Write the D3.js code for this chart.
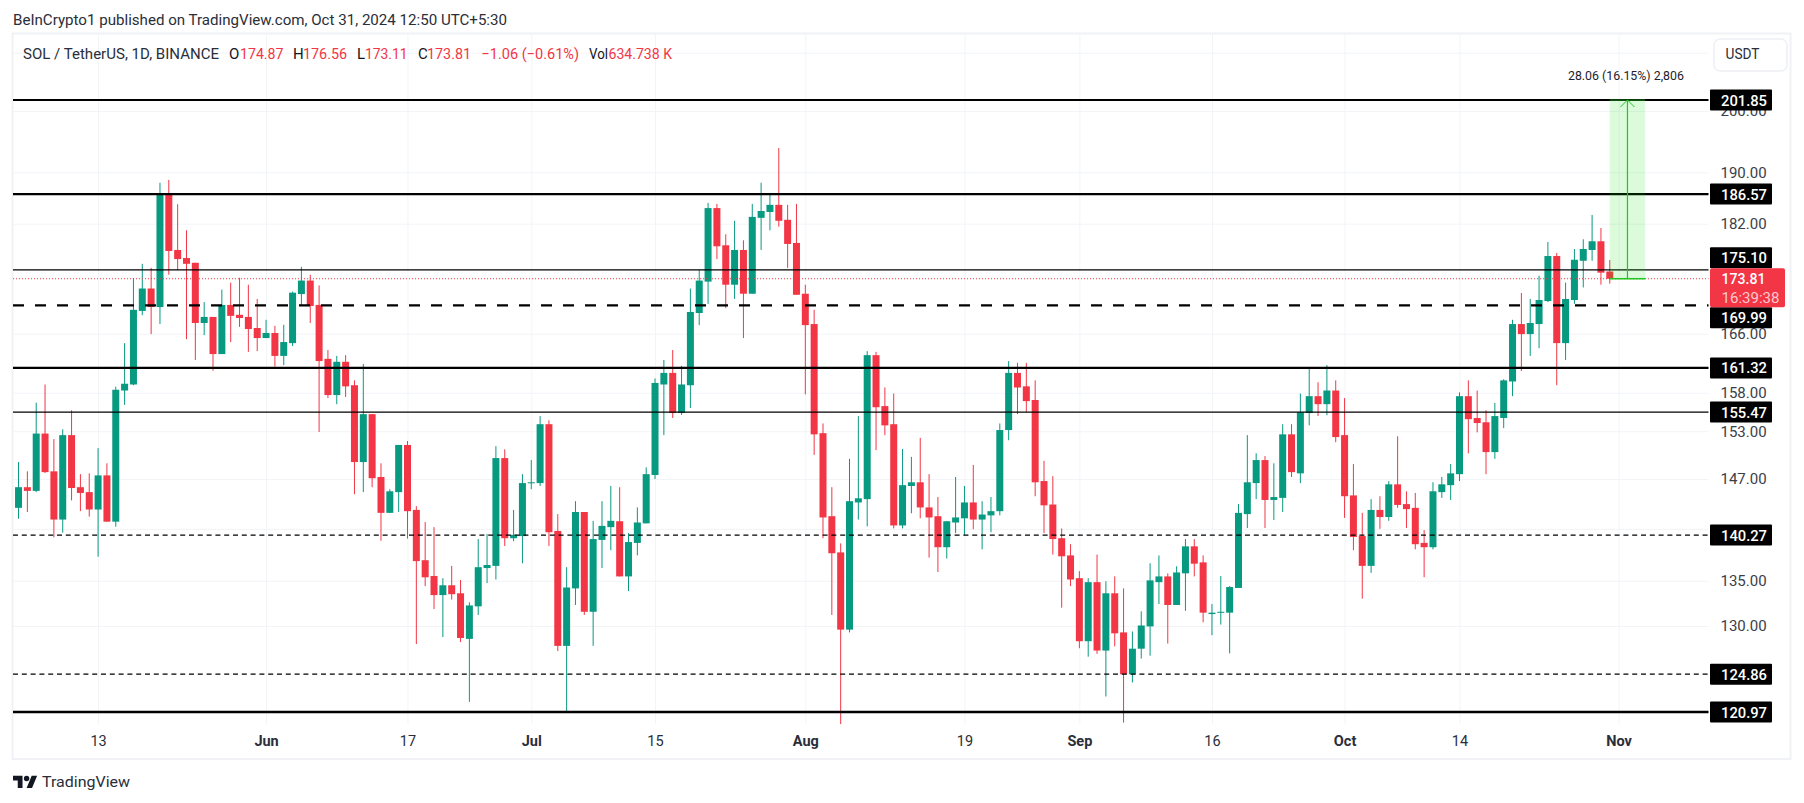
<!DOCTYPE html>
<html><head><meta charset="utf-8">
<script src="https://d3js.org/d3.v7.min.js"></script>
<style>
html,body{margin:0;padding:0;background:#fff;overflow:hidden}
svg{display:block}
text{font-family:Roboto,"Liberation Sans",sans-serif}
.domain{display:none}
</style></head><body>
<svg id="c" width="1804" height="803"></svg>
<script>
const firstDay = Date.UTC(2024,4,4);
const openP = [143.5,146.0,145.55,152.7,147.95,142.1,152.5,146.0,145.4,143.3,
147.45,141.85,158.3,159.1,169.2,172.4,169.75,186.65,178.05,176.85,
176.15,167.5,168.35,163.2,170.05,168.65,168.35,166.8,165.4,166.1,
162.95,164.7,171.6,173.55,170.05,162.55,157.7,162.15,159.0,149.1,
155.2,147.25,142.9,145.4,151.25,143.25,137.35,135.55,133.4,134.5,
133.6,128.6,132.15,136.45,136.7,149.6,139.9,140.15,146.5,146.5,
153.9,140.75,127.85,134.15,143.0,131.55,139.7,141.2,141.9,135.5,
139.35,141.65,147.5,159.1,160.65,155.35,159.0,168.9,173.4,184.4,
178.75,172.95,178.05,171.65,182.9,183.8,184.9,182.6,179.1,171.65,
167.35,152.75,142.5,138.25,129.6,144.15,144.55,163.05,156.25,153.9,
141.4,146.15,146.6,143.55,142.5,138.85,141.75,142.25,144.15,142.1,
142.6,143.1,153.15,160.65,158.85,157.05,146.75,143.9,139.9,137.9,
135.3,128.35,134.85,127.35,133.6,129.3,124.85,127.55,129.95,134.85,
135.5,132.3,135.85,138.95,137.1,131.3,131.45,131.45,134.2,142.75,
146.5,149.35,144.45,144.7,152.6,147.7,155.35,157.55,156.5,158.3,
152.5,145.0,140.15,136.7,143.25,142.4,146.35,143.95,143.5,139.35,
138.85,145.4,146.25,147.6,157.55,154.7,154.15,150.35,154.7,159.5,
167.35,165.95,167.35,170.6,177.15,164.7,170.75,176.45,178.05,179.35,174.87];
const highP = [149.1,147.95,156.7,159.1,152.0,153.25,155.7,147.6,147.7,150.85,
148.95,158.8,164.7,173.9,176.0,175.4,188.35,188.8,185.0,181.0,
176.15,170.45,168.35,172.25,173.25,173.95,172.95,170.9,167.95,167.1,
167.25,171.95,175.55,174.4,172.85,163.75,162.95,163.05,159.65,161.85,
155.2,148.95,145.75,151.25,151.75,143.7,141.8,141.2,135.3,136.7,
135.1,132.6,139.8,140.4,151.1,150.7,143.25,147.6,149.35,154.95,
154.4,142.75,136.55,144.3,143.0,141.95,144.3,146.15,146.0,140.5,
143.55,148.45,159.9,162.4,163.75,161.6,172.4,175.1,185.2,185.05,
180.4,182.45,179.5,185.05,188.35,186.75,193.9,184.9,185.05,172.95,
169.35,154.0,146.0,139.3,149.5,154.95,163.6,163.5,158.7,157.9,
150.75,149.75,152.15,147.6,144.8,141.9,147.25,146.15,148.75,144.3,
144.8,154.0,162.25,162.0,162.0,159.65,149.25,147.35,141.05,139.2,
136.1,135.3,138.0,134.95,135.5,134.15,129.4,131.6,137.0,137.9,
135.85,136.65,139.8,139.8,137.9,132.4,135.55,134.4,143.95,152.5,
150.2,149.85,148.95,153.9,153.9,157.9,161.2,159.4,161.7,159.65,
157.3,148.85,142.9,144.55,144.9,146.75,152.35,145.5,145.3,140.85,
146.6,147.25,148.85,158.05,159.65,158.3,155.7,156.65,159.8,167.95,
171.75,170.9,174.25,179.25,177.6,173.25,178.2,179.65,183.35,181.35,176.56];
const lowP = [142.2,143.0,145.4,147.75,140.0,140.55,144.4,143.1,142.45,137.75,
141.85,141.25,156.4,159.0,168.6,165.95,167.35,174.4,175.1,165.25,
162.4,165.8,160.95,163.2,164.85,166.95,163.5,163.6,165.4,161.5,
161.7,164.3,169.9,167.5,152.9,157.3,156.5,157.45,145.15,145.4,
146.0,139.6,142.9,143.0,139.85,128.05,134.4,131.85,128.8,132.9,
128.25,122.0,131.2,134.75,135.15,139.0,139.55,137.0,145.75,146.15,
139.0,127.3,121.0,132.3,131.2,127.85,136.45,138.5,135.5,133.85,
137.9,141.65,147.0,152.5,154.7,155.1,156.0,167.2,170.2,176.7,
169.6,170.9,165.4,171.65,178.05,181.0,181.55,175.4,171.5,157.8,
150.0,139.9,131.2,119.75,129.3,142.1,141.3,150.6,152.5,141.05,
141.05,142.85,142.25,137.65,136.0,137.55,140.5,140.25,140.95,138.6,
140.6,142.6,151.85,155.2,155.5,144.9,140.5,138.0,132.0,134.4,
127.6,126.7,127.0,122.55,127.8,119.9,124.0,126.5,126.8,132.4,
128.1,132.3,131.65,135.5,130.4,129.0,130.15,127.05,134.2,141.1,
144.55,141.1,142.05,143.0,147.25,146.5,153.75,154.95,155.05,151.6,
142.3,138.5,133.0,135.9,141.0,141.95,143.5,141.1,138.6,135.4,
138.6,144.7,144.45,146.75,150.2,152.85,147.6,149.5,153.4,157.55,
160.9,162.95,164.0,170.45,159.0,162.4,170.2,172.55,176.45,172.95,173.11];
const closeP = [146.0,145.55,152.7,147.85,142.1,152.5,145.9,145.3,143.3,147.45,
141.85,158.4,159.2,169.35,172.4,169.75,186.65,177.9,176.7,176.0,
167.5,168.35,163.2,170.05,168.5,168.2,166.65,165.4,166.1,162.95,
164.85,171.8,173.55,169.9,162.25,157.7,162.15,158.85,149.1,155.2,
147.1,142.9,145.5,151.25,143.1,137.25,135.4,133.4,134.5,133.5,
128.7,132.25,136.55,136.8,149.6,139.9,140.3,146.5,146.6,153.9,
140.6,127.85,134.25,143.0,131.55,139.8,141.35,141.95,135.5,139.45,
141.75,147.6,159.3,160.65,155.35,159.1,169.05,173.55,184.4,178.6,
172.95,178.05,171.65,183.05,183.95,184.9,182.45,178.95,171.5,167.2,
152.6,142.35,138.15,129.6,144.3,144.65,163.05,156.1,153.75,141.4,
146.25,146.6,143.55,142.35,138.85,141.9,142.35,144.15,142.1,142.7,
143.1,153.15,160.65,158.7,156.9,146.6,143.8,139.8,137.8,135.15,
128.35,134.85,127.35,133.6,129.2,124.85,127.55,130.05,135.05,135.5,
132.3,135.95,138.95,136.95,131.45,131.45,131.55,134.3,142.9,146.6,
149.35,144.45,144.8,152.6,147.85,155.45,157.55,156.5,158.3,152.25,
144.9,140.05,136.7,143.25,142.4,146.35,143.85,143.35,139.2,138.85,
145.5,146.35,147.7,157.55,154.55,154.05,150.35,154.95,159.65,167.35,
165.95,167.5,170.75,177.15,164.7,170.9,176.6,178.2,179.35,174.7,173.81];

const priceTicks = [210,200,190,182,174,166,158,153,147,141,135,130];
const hiddenPriceLabels = [210,174,141];
const timeTicks = [[4,13],[5,1],[5,17],[6,1],[6,15],[7,1],[7,19],[8,1],[8,16],[9,1],[9,14],[10,1]].map(d=>new Date(Date.UTC(2024,d[0],d[1])));
const timeLabels = ["13","Jun","17","Jul","15","Aug","19","Sep","16","Oct","14","Nov"];
const levelValues = [201.85,186.57,175.10,169.99,161.32,155.47,140.27,124.86,120.97];
const levelWidths = [2.2,2.2,1.2,2.2,2.2,1.2,1.2,1.2,2.6];
const levelDashes = [null,null,null,"11 11",null,null,"5 3.8","5 3.8",null];
const lastPrice = 173.81;
const countdown = "16:39:38";
const measure = {from:new Date(Date.UTC(2024,9,31)),to:new Date(Date.UTC(2024,10,4)),mid:new Date(Date.UTC(2024,10,2)),lo:173.81,hi:201.85,label:"28.06 (16.15%) 2,806"};

const GREEN="#089981",RED="#f23645",INK="#131722",GRID="#f2f4f8";
const L=13,R=1708.5,T=34,B=724;
const svg=d3.select("#c");
const x=d3.scaleUtc().domain([new Date(Date.UTC(2024,4,3,9)),new Date(Date.UTC(2024,10,11,4))]).range([L,R]);
const y=d3.scaleLog().domain([201.85,120.97]).range([100,712]);
const candles=openP.map((o,i)=>({t:new Date(firstDay+i*864e5),o,h:highP[i],l:lowP[i],c:closeP[i]}));

function txt(g,s,px,py,o={}){
  const t=g.append("text").attr("x",px).attr("y",py).text(s)
   .attr("font-size",o.size||15).attr("fill",o.fill||INK)
   .attr("text-anchor",o.anchor||"start").attr("dominant-baseline","central");
  if(o.weight)t.attr("font-weight",o.weight);
  if(o.len)t.attr("textLength",o.len).attr("lengthAdjust","spacingAndGlyphs");
  return t;
}

// pane border
svg.append("rect").attr("x",12.5).attr("y",33.5).attr("width",1778).attr("height",725.5)
  .attr("fill","#fff").attr("stroke","#f0f2f5").attr("stroke-width",2);

// grid + axes through d3 axes
const gx=svg.append("g").attr("transform",`translate(0,${B})`)
 .call(d3.axisBottom(x).tickValues(timeTicks).tickSize(-(B-T)).tickPadding(12).tickFormat((d,i)=>timeLabels[i]));
gx.selectAll("line").attr("stroke",GRID).attr("stroke-width",1);
gx.selectAll("text").attr("fill","#2a2e39").attr("font-size",14.5)
  .attr("font-family","Roboto")
  .attr("font-weight",(d,i)=>isNaN(+timeLabels[i])?700:400);
const gy=svg.append("g").attr("transform",`translate(${R},0)`)
 .call(d3.axisRight(y).tickValues(priceTicks).tickSize(-(R-L)).tickPadding(12)
   .tickFormat(d=>hiddenPriceLabels.includes(d)?"":d3.format(".2f")(d)));
gy.selectAll("line").attr("stroke",GRID).attr("stroke-width",1);
gy.selectAll("text").attr("fill","#3a3e49").attr("font-size",15).attr("font-family","Roboto");

// candles
const cg=svg.append("g");
const bw=7;
cg.selectAll("line.w").data(candles).join("line").attr("class","w")
 .attr("x1",d=>x(d.t)).attr("x2",d=>x(d.t)).attr("y1",d=>y(d.h)).attr("y2",d=>y(d.l))
 .attr("stroke",d=>d.c>=d.o?GREEN:RED).attr("stroke-width",1);
cg.selectAll("rect.b").data(candles).join("rect").attr("class","b")
 .attr("x",d=>x(d.t)-bw/2).attr("width",bw)
 .attr("y",d=>y(Math.max(d.o,d.c)))
 .attr("height",d=>Math.max(1,Math.abs(y(d.o)-y(d.c))))
 .attr("fill",d=>d.c>=d.o?GREEN:RED);

// last price dotted line
svg.append("line").attr("x1",L).attr("x2",R).attr("y1",y(lastPrice)).attr("y2",y(lastPrice))
 .attr("stroke",RED).attr("stroke-width",1).attr("stroke-dasharray","1 2");

// level lines
svg.append("g").selectAll("line").data(levelValues).join("line")
 .attr("x1",L).attr("x2",R).attr("y1",d=>y(d)).attr("y2",d=>y(d))
 .attr("stroke","#000").attr("stroke-width",(d,i)=>levelWidths[i])
 .attr("stroke-dasharray",(d,i)=>levelDashes[i]);

// measure tool
const mg=svg.append("g");
const mx0=x(measure.from),mx1=x(measure.to),mxm=x(measure.mid),myT=y(measure.hi),myB=y(measure.lo);
mg.append("rect").attr("x",mx0).attr("y",myT).attr("width",mx1-mx0).attr("height",myB-myT).attr("fill","rgba(0,230,0,0.14)");
mg.append("line").attr("x1",mx0).attr("x2",mx1).attr("y1",myT).attr("y2",myT).attr("stroke","#2fd02f").attr("stroke-width",1.2).attr("opacity",.6);
mg.append("line").attr("x1",mx0).attr("x2",mx1).attr("y1",myB).attr("y2",myB).attr("stroke","#1fc81f").attr("stroke-width",1.4);
mg.append("line").attr("x1",mxm).attr("x2",mxm).attr("y1",myT).attr("y2",myB).attr("stroke","#1fc81f").attr("stroke-width",1.2);
mg.append("path").attr("d",`M${mxm-7},${myT+7}L${mxm},${myT}L${mxm+7},${myT+7}`).attr("fill","none").attr("stroke","#1fc81f").attr("stroke-width",1);
txt(svg,measure.label,mxm-1.5,75.5,{size:13,anchor:"middle",len:116,fill:"#1e222d"});

// level labels: pushed clear of the last-price label, as the price scale does
const lg=svg.append("g");
const ly=y(lastPrice),boxTop=ly-10.5,boxBot=ly+28.5,boxH=21;
levelValues.forEach(v=>{
  let cy=y(v);
  if(cy+boxH/2>boxTop && cy-boxH/2<boxBot) cy = v>lastPrice ? boxTop-boxH/2 : boxBot+boxH/2;
  lg.append("rect").attr("x",1710).attr("y",cy-boxH/2).attr("width",62).attr("height",boxH).attr("rx",1).attr("fill","#000");
  txt(lg,d3.format(".2f")(v),1721,cy+0.5,{size:15,fill:"#fff",weight:500,len:46});
});
// last price label
lg.append("rect").attr("x",1710).attr("y",boxTop).attr("width",75).attr("height",boxBot-boxTop).attr("rx",2).attr("fill",RED);
txt(lg,d3.format(".2f")(lastPrice),1721.5,ly,{size:15,fill:"#fff",weight:500,len:44});
txt(lg,countdown,1721.5,ly+19,{size:15,fill:"#fcc8cd",len:58});

// USDT button
svg.append("rect").attr("x",1714).attr("y",39).attr("width",73).attr("height",32).attr("rx",6).attr("fill","#fff").attr("stroke","#eef0f3").attr("stroke-width",1.5);
txt(svg,"USDT",1725.5,54.5,{size:14.5,fill:"#2a2e39",len:34});

// header
const hd=svg.append("g");
txt(hd,"BeInCrypto1 published on TradingView.com, Oct 31, 2024 12:50 UTC+5:30",13,20,{size:15,fill:"#2a2e39",len:494});
txt(hd,"SOL / TetherUS, 1D, BINANCE",23,54,{size:15,fill:"#2a2e39",len:196});
[["O",229,null,INK],["174.87",240,43.5,RED],["H",293,null,INK],["176.56",303,44,RED],["L",357,null,INK],["173.11",365,42.5,RED],["C",418,null,INK],["173.81",427,44,RED],["−1.06 (−0.61%)",481.5,97.5,RED],["Vol",589,19,INK],["634.738 K",608.5,63.5,RED]]
 .forEach(r=>txt(hd,r[0],r[1],54,{size:15,fill:r[3],len:r[2]}));

// footer logo
const fg=svg.append("g").attr("transform","translate(13,774.5) scale(0.68)");
fg.append("path").attr("d","M14 20H7V9H0V2h14v18zM28 20h-8l7.5-18h8L28 20z").attr("fill","#131722");
fg.append("circle").attr("cx",20).attr("cy",6).attr("r",4).attr("fill","#131722");
txt(svg,"TradingView",42,781.5,{size:15.5,fill:"#2a2e39",len:88});
</script>
</body></html>
